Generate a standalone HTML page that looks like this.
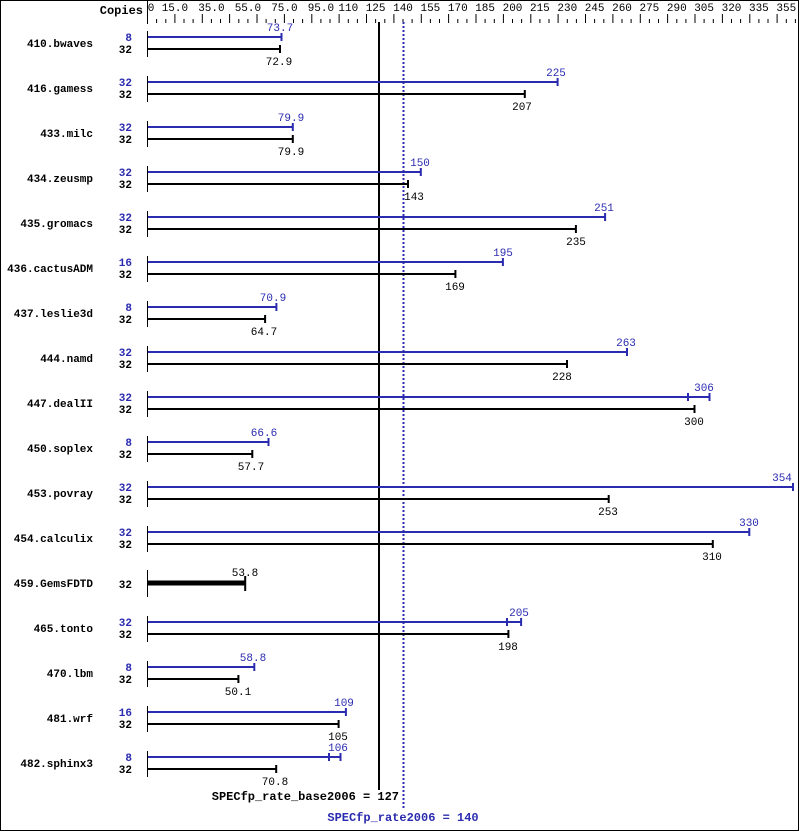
<!DOCTYPE html>
<html><head><meta charset="utf-8"><style>
html,body{margin:0;padding:0;background:#fff}
svg{display:block}
text{font-family:"Liberation Mono",monospace;font-size:11px}
.n{font-weight:bold;font-size:12px;text-anchor:end}
.c{font-weight:bold;font-size:12px;text-anchor:end}
.b{stroke:#000;stroke-width:2}
.p{stroke:#2b2bb0;stroke-width:2}
.bl{fill:#2b2bb0}
.m{text-anchor:middle}
</style></head><body>
<svg width="799" height="831" viewBox="0 0 799 831">
<rect x="0.5" y="0.5" width="798" height="830" fill="#fff" stroke="#000"/>
<g>
<text x="143" y="14" class="c">Copies</text>
<line x1="147.5" y1="0" x2="147.5" y2="24" stroke="#000"/>
<g stroke="#000">
<path id="ticks" d=""/>
</g>
</g>
<g id="axis" stroke="#000" stroke-width="1">
<line x1="147.5" y1="14" x2="147.5" y2="23"/>
<line x1="156.6" y1="19" x2="156.6" y2="23"/><line x1="165.8" y1="19" x2="165.8" y2="23"/><line x1="174.9" y1="14" x2="174.9" y2="23"/>
<line x1="184" y1="19" x2="184" y2="23"/><line x1="193.1" y1="19" x2="193.1" y2="23"/><line x1="202.3" y1="14" x2="202.3" y2="23"/>
<line x1="211.4" y1="19" x2="211.4" y2="23"/><line x1="220.5" y1="19" x2="220.5" y2="23"/><line x1="229.6" y1="14" x2="229.6" y2="23"/>
<line x1="238.8" y1="19" x2="238.8" y2="23"/><line x1="247.9" y1="19" x2="247.9" y2="23"/><line x1="257" y1="14" x2="257" y2="23"/>
<line x1="266.1" y1="19" x2="266.1" y2="23"/><line x1="275.3" y1="19" x2="275.3" y2="23"/><line x1="284.4" y1="14" x2="284.4" y2="23"/>
<line x1="293.5" y1="19" x2="293.5" y2="23"/><line x1="302.6" y1="19" x2="302.6" y2="23"/><line x1="311.8" y1="14" x2="311.8" y2="23"/>
<line x1="320.9" y1="19" x2="320.9" y2="23"/><line x1="330" y1="19" x2="330" y2="23"/><line x1="339.1" y1="14" x2="339.1" y2="23"/>
<line x1="348.3" y1="19" x2="348.3" y2="23"/><line x1="357.4" y1="19" x2="357.4" y2="23"/><line x1="366.5" y1="14" x2="366.5" y2="23"/>
<line x1="375.6" y1="19" x2="375.6" y2="23"/><line x1="384.8" y1="19" x2="384.8" y2="23"/><line x1="393.9" y1="14" x2="393.9" y2="23"/>
<line x1="403" y1="19" x2="403" y2="23"/><line x1="412.1" y1="19" x2="412.1" y2="23"/><line x1="421.3" y1="14" x2="421.3" y2="23"/>
<line x1="430.4" y1="19" x2="430.4" y2="23"/><line x1="439.5" y1="19" x2="439.5" y2="23"/><line x1="448.6" y1="14" x2="448.6" y2="23"/>
<line x1="457.8" y1="19" x2="457.8" y2="23"/><line x1="466.9" y1="19" x2="466.9" y2="23"/><line x1="476" y1="14" x2="476" y2="23"/>
<line x1="485.1" y1="19" x2="485.1" y2="23"/><line x1="494.3" y1="19" x2="494.3" y2="23"/><line x1="503.4" y1="14" x2="503.4" y2="23"/>
<line x1="512.5" y1="19" x2="512.5" y2="23"/><line x1="521.6" y1="19" x2="521.6" y2="23"/><line x1="530.8" y1="14" x2="530.8" y2="23"/>
<line x1="539.9" y1="19" x2="539.9" y2="23"/><line x1="549" y1="19" x2="549" y2="23"/><line x1="558.1" y1="14" x2="558.1" y2="23"/>
<line x1="567.3" y1="19" x2="567.3" y2="23"/><line x1="576.4" y1="19" x2="576.4" y2="23"/><line x1="585.5" y1="14" x2="585.5" y2="23"/>
<line x1="594.6" y1="19" x2="594.6" y2="23"/><line x1="603.8" y1="19" x2="603.8" y2="23"/><line x1="612.9" y1="14" x2="612.9" y2="23"/>
<line x1="622" y1="19" x2="622" y2="23"/><line x1="631.1" y1="19" x2="631.1" y2="23"/><line x1="640.3" y1="14" x2="640.3" y2="23"/>
<line x1="649.4" y1="19" x2="649.4" y2="23"/><line x1="658.5" y1="19" x2="658.5" y2="23"/><line x1="667.6" y1="14" x2="667.6" y2="23"/>
<line x1="676.8" y1="19" x2="676.8" y2="23"/><line x1="685.9" y1="19" x2="685.9" y2="23"/><line x1="695" y1="14" x2="695" y2="23"/>
<line x1="704.1" y1="19" x2="704.1" y2="23"/><line x1="713.3" y1="19" x2="713.3" y2="23"/><line x1="722.4" y1="14" x2="722.4" y2="23"/>
<line x1="731.5" y1="19" x2="731.5" y2="23"/><line x1="740.6" y1="19" x2="740.6" y2="23"/><line x1="749.8" y1="14" x2="749.8" y2="23"/>
<line x1="758.9" y1="19" x2="758.9" y2="23"/><line x1="768" y1="19" x2="768" y2="23"/><line x1="777.1" y1="14" x2="777.1" y2="23"/>
<line x1="786.3" y1="19" x2="786.3" y2="23"/><line x1="795.4" y1="19" x2="795.4" y2="23"/>
</g>
<g class="m">
<text x="151" y="11">0</text><text x="174.9" y="11">15.0</text><text x="211.4" y="11">35.0</text><text x="247.9" y="11">55.0</text><text x="284.4" y="11">75.0</text><text x="320.9" y="11">95.0</text><text x="348.3" y="11">110</text><text x="375.6" y="11">125</text><text x="403" y="11">140</text><text x="430.4" y="11">155</text><text x="457.8" y="11">170</text><text x="485.1" y="11">185</text><text x="512.5" y="11">200</text><text x="539.9" y="11">215</text><text x="567.3" y="11">230</text><text x="594.6" y="11">245</text><text x="622" y="11">260</text><text x="649.4" y="11">275</text><text x="676.8" y="11">290</text><text x="704.1" y="11">305</text><text x="731.5" y="11">320</text><text x="758.9" y="11">335</text><text x="786.3" y="11">355</text>
</g>

<line x1="379" y1="22" x2="379" y2="790" stroke="#000" stroke-width="2"/>
<line x1="403.5" y1="22" x2="403.5" y2="810" stroke="#2b2bb0" stroke-width="2" stroke-dasharray="2,2"/>
<text x="399" y="800" style="font-weight:bold;font-size:12px;text-anchor:end">SPECfp_rate_base2006 = 127</text>
<text x="403" y="821" class="bl" style="font-weight:bold;font-size:12px;text-anchor:middle">SPECfp_rate2006 = 140</text>

<g stroke="#000" stroke-width="1">
<line x1="147.5" y1="31" x2="147.5" y2="57"/><line x1="147.5" y1="76" x2="147.5" y2="102"/><line x1="147.5" y1="121" x2="147.5" y2="147"/><line x1="147.5" y1="166" x2="147.5" y2="192"/><line x1="147.5" y1="211" x2="147.5" y2="237"/><line x1="147.5" y1="256" x2="147.5" y2="282"/><line x1="147.5" y1="301" x2="147.5" y2="327"/><line x1="147.5" y1="346" x2="147.5" y2="372"/><line x1="147.5" y1="391" x2="147.5" y2="417"/><line x1="147.5" y1="436" x2="147.5" y2="462"/><line x1="147.5" y1="481" x2="147.5" y2="507"/><line x1="147.5" y1="526" x2="147.5" y2="552"/><line x1="147.5" y1="570" x2="147.5" y2="597"/><line x1="147.5" y1="616" x2="147.5" y2="642"/><line x1="147.5" y1="661" x2="147.5" y2="687"/><line x1="147.5" y1="706" x2="147.5" y2="732"/><line x1="147.5" y1="751" x2="147.5" y2="777"/>
</g>

<!-- names -->
<g class="n">
<text x="93" y="47">410.bwaves</text><text x="93" y="92">416.gamess</text><text x="93" y="137">433.milc</text><text x="93" y="182">434.zeusmp</text><text x="93" y="227">435.gromacs</text><text x="93" y="272">436.cactusADM</text><text x="93" y="317">437.leslie3d</text><text x="93" y="362">444.namd</text><text x="93" y="407">447.dealII</text><text x="93" y="452">450.soplex</text><text x="93" y="497">453.povray</text><text x="93" y="542">454.calculix</text><text x="93" y="587">459.GemsFDTD</text><text x="93" y="632">465.tonto</text><text x="93" y="677">470.lbm</text><text x="93" y="722">481.wrf</text><text x="93" y="767">482.sphinx3</text>
</g>
<g class="c bl">
<text x="132" y="41">8</text><text x="132" y="86">32</text><text x="132" y="131">32</text><text x="132" y="176">32</text><text x="132" y="221">32</text><text x="132" y="266">16</text><text x="132" y="311">8</text><text x="132" y="356">32</text><text x="132" y="401">32</text><text x="132" y="446">8</text><text x="132" y="491">32</text><text x="132" y="536">32</text><text x="132" y="626">32</text><text x="132" y="671">8</text><text x="132" y="716">16</text><text x="132" y="761">8</text>
</g>
<g class="c">
<text x="132" y="53">32</text><text x="132" y="98">32</text><text x="132" y="143">32</text><text x="132" y="188">32</text><text x="132" y="233">32</text><text x="132" y="278">32</text><text x="132" y="323">32</text><text x="132" y="368">32</text><text x="132" y="413">32</text><text x="132" y="458">32</text><text x="132" y="503">32</text><text x="132" y="548">32</text><text x="132" y="588">32</text><text x="132" y="638">32</text><text x="132" y="683">32</text><text x="132" y="728">32</text><text x="132" y="773">32</text>
</g>

<!-- peak bars -->
<g class="p">
<path d="M148 37H281.5M281.5 33V41"/>
<path d="M148 82H557.6M557.6 78V86"/>
<path d="M148 127H292.8M292.8 123V131"/>
<path d="M148 172H420.8M420.8 168V176"/>
<path d="M148 217H605.1M605.1 213V221"/>
<path d="M148 262H502.9M502.9 258V266"/>
<path d="M148 307H276.4M276.4 303V311"/>
<path d="M148 352H627M627 348V356"/>
<path d="M148 397H709.5M709.5 393V401M688 393V401" />
<path d="M148 442H268.5M268.5 438V446"/>
<path d="M148 487H793M793 483V491"/>
<path d="M148 532H749.3M749.3 528V536"/>
<path d="M148 622H521.1M521.1 618V626M507 618V626"/>
<path d="M148 667H254.3M254.3 663V671"/>
<path d="M148 712H345.9M345.9 708V716"/>
<path d="M148 757H340.5M340.5 753V761M329 753V761"/>
</g>
<g class="b">
<path d="M148 49H280M280 45V53"/>
<path d="M148 94H524.8M524.8 90V98"/>
<path d="M148 139H292.8M292.8 135V143"/>
<path d="M148 184H408M408 180V188"/>
<path d="M148 229H575.9M575.9 225V233"/>
<path d="M148 274H455.4M455.4 270V278"/>
<path d="M148 319H265.1M265.1 315V323"/>
<path d="M148 364H567M567 360V368"/>
<path d="M148 409H694.5M694.5 405V413"/>
<path d="M148 454H252.3M252.3 450V458"/>
<path d="M148 499H608.7M608.7 495V503"/>
<path d="M148 544H712.8M712.8 540V548"/>
<path d="M148 583H245.2" stroke-width="5"/><path d="M245.2 576V591"/>
<path d="M148 634H508.4M508.4 630V638"/>
<path d="M148 679H238.4M238.4 675V683"/>
<path d="M148 724H338.6M338.6 720V728"/>
<path d="M148 769H276.2M276.2 765V773"/>
</g>
<g class="m bl">
<text x="280" y="31">73.7</text><text x="556" y="76">225</text><text x="291" y="121">79.9</text><text x="420" y="166">150</text><text x="604" y="211">251</text><text x="503" y="256">195</text><text x="273" y="301">70.9</text><text x="626" y="346">263</text><text x="704" y="391">306</text><text x="264" y="436">66.6</text><text x="782" y="481">354</text><text x="749" y="526">330</text><text x="519" y="616">205</text><text x="253" y="661">58.8</text><text x="344" y="706">109</text><text x="338" y="751">106</text>
</g>
<g class="m">
<text x="279" y="65">72.9</text><text x="522" y="110">207</text><text x="291" y="155">79.9</text><text x="414" y="200">143</text><text x="576" y="245">235</text><text x="455" y="290">169</text><text x="264" y="335">64.7</text><text x="562" y="380">228</text><text x="694" y="425">300</text><text x="251" y="470">57.7</text><text x="608" y="515">253</text><text x="712" y="560">310</text><text x="245" y="576">53.8</text><text x="508" y="650">198</text><text x="238" y="695">50.1</text><text x="338" y="740">105</text><text x="275" y="785">70.8</text>
</g>
</svg>
</body></html>
